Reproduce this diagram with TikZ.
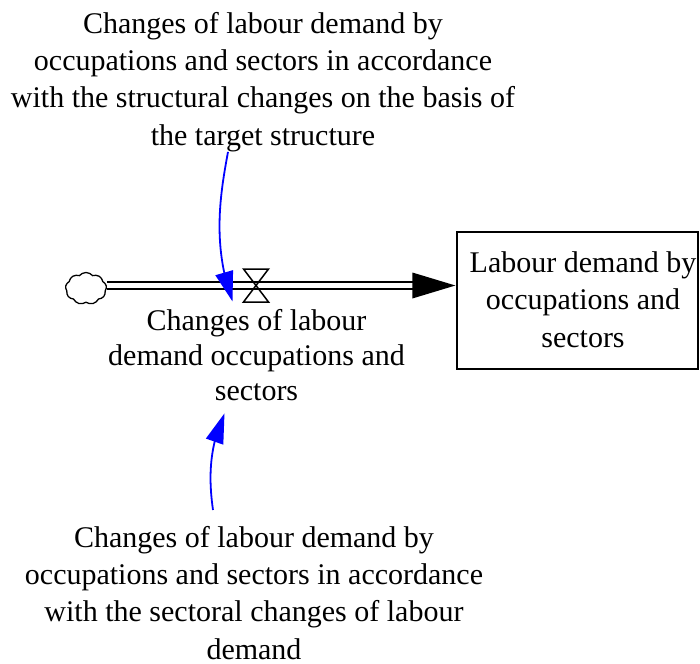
\documentclass[tikz,border=0pt]{standalone}
\usepackage{fontspec}
\setmainfont{Liberation Serif}
\usetikzlibrary{arrows.meta,shapes.symbols,bending}

\tikzset{
  label30/.style={font=\fontsize{30}{37.3}\selectfont, align=center, inner sep=0pt},
  stock/.style={draw, line width=1.3pt, minimum width=241pt, minimum height=137pt,
                inner sep=0pt},
  stocktext/.style={font=\fontsize{30}{37.5}\selectfont, align=center, inner sep=0pt},
  source/.style={cloud, cloud puffs=9, cloud puff arc=100, aspect=1.3, draw,
                 line width=1.3pt, minimum width=41pt, minimum height=32pt, inner sep=0pt},
  pipe/.style={line width=1.8pt, double=white, double distance=5pt},
  valveline/.style={line width=1.5pt, line join=miter},
  link/.style={draw=blue, line width=1.8pt,
               -{Triangle[length=30pt,width=18pt,flex]}, color=blue},
}

\begin{document}
\begin{tikzpicture}[x=1pt,y=-1pt]
  \useasboundingbox (0,0) rectangle (700,663);

  % stock, source cloud and valve
  \node[stock] (stock) at (577.5,300.5) {};
  \node[stocktext] (stocklabel) at (583,299.5) {Labour demand by\\occupations and\\sectors};
  \node[source] (src) at (86,288.5) {};
  \coordinate (valve) at (256,285.5);
  \coordinate (tip) at (stock.west |- valve);

  % flow pipe with its head
  \draw[pipe] (src.east |- valve) -- ([shift={(-42,0)}]tip);
  \fill ([shift={(-1,0)}]tip) -- ([shift={(-44,-13)}]tip) -- ([shift={(-44,13)}]tip) -- cycle;

  % valve (bow tie)
  \draw[valveline] ([shift={(-12.5,-16.5)}]valve) -- ([shift={(12.5,-16.5)}]valve)
    -- ([shift={(-12.5,16.5)}]valve) -- ([shift={(12.5,16.5)}]valve) -- cycle;

  % texts
  \node[label30, anchor=north, font=\fontsize{30}{35}\selectfont] (flow) at (256.5,309.5)
    {Changes of labour\\demand occupations and\\sectors};
  \node[label30, anchor=north] (structural) at (263,12)
    {Changes of labour demand by\\occupations and sectors in accordance\\with the structural changes on the basis of\\the target structure};
  \node[label30, anchor=north] (sectoral) at (254,526)
    {Changes of labour demand by\\occupations and sectors in accordance\\with the sectoral changes of labour\\demand};

  % influence links
  \draw[link] ([shift={(-35,0)}]structural.south)
    .. controls (220,195) and (212,245) .. ([shift={(-24,-8)}]flow.north);
  \draw[link] ([shift={(-41,-16)}]sectoral.north)
    .. controls (208,475) and (210,445) .. ([shift={(-32,12)}]flow.south);
\end{tikzpicture}
\end{document}
